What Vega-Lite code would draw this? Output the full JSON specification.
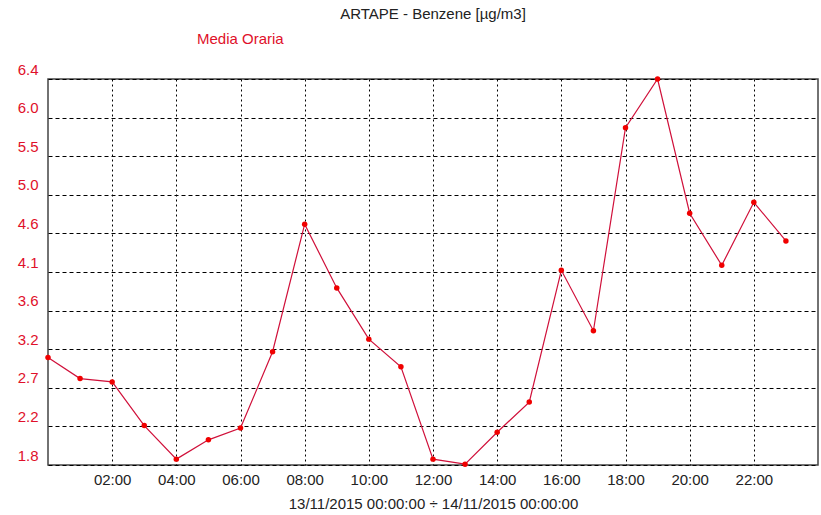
{
  "$schema": "https://vega.github.io/schema/vega-lite/v6.json",
  "width": 770,
  "height": 386,
  "autosize": {"type": "none"},
  "padding": {"left": 48, "top": 79, "right": 3, "bottom": 50},
  "background": "white",
  "config": {
    "font": "Liberation Sans",
    "view": {"stroke": "#444", "strokeWidth": 1.5}
  },
  "title": {
    "text": "ARTAPE - Benzene [µg/m3]",
    "anchor": "middle",
    "fontSize": 15,
    "fontWeight": "normal",
    "color": "#222",
    "font": "Liberation Sans",
    "offset": 9
  },
  "data": {
    "values": [
      {"hour": 0, "value": 3.08, "series": "Media Oraria"},
      {"hour": 1, "value": 2.83, "series": "Media Oraria"},
      {"hour": 2, "value": 2.79, "series": "Media Oraria"},
      {"hour": 3, "value": 2.27, "series": "Media Oraria"},
      {"hour": 4, "value": 1.87, "series": "Media Oraria"},
      {"hour": 5, "value": 2.1, "series": "Media Oraria"},
      {"hour": 6, "value": 2.24, "series": "Media Oraria"},
      {"hour": 7, "value": 3.15, "series": "Media Oraria"},
      {"hour": 8, "value": 4.67, "series": "Media Oraria"},
      {"hour": 9, "value": 3.91, "series": "Media Oraria"},
      {"hour": 10, "value": 3.3, "series": "Media Oraria"},
      {"hour": 11, "value": 2.97, "series": "Media Oraria"},
      {"hour": 12, "value": 1.87, "series": "Media Oraria"},
      {"hour": 13, "value": 1.81, "series": "Media Oraria"},
      {"hour": 14, "value": 2.19, "series": "Media Oraria"},
      {"hour": 15, "value": 2.55, "series": "Media Oraria"},
      {"hour": 16, "value": 4.12, "series": "Media Oraria"},
      {"hour": 17, "value": 3.4, "series": "Media Oraria"},
      {"hour": 18, "value": 5.82, "series": "Media Oraria"},
      {"hour": 19, "value": 6.4, "series": "Media Oraria"},
      {"hour": 20, "value": 4.8, "series": "Media Oraria"},
      {"hour": 21, "value": 4.18, "series": "Media Oraria"},
      {"hour": 22, "value": 4.93, "series": "Media Oraria"},
      {"hour": 23, "value": 4.47, "series": "Media Oraria"}
    ]
  },
  "encoding": {
    "x": {
      "field": "hour",
      "type": "quantitative",
      "scale": {"domain": [0, 24], "nice": false, "zero": false},
      "axis": {
        "values": [2, 4, 6, 8, 10, 12, 14, 16, 18, 20, 22],
        "labelExpr": "(datum.value < 10 ? '0' : '') + datum.value + ':00'",
        "domain": false,
        "ticks": false,
        "labelPadding": 7,
        "labelFontSize": 15,
        "labelColor": "#222",
        "labelFont": "Liberation Sans",
        "grid": true,
        "gridColor": "#000",
        "gridOpacity": 1,
        "gridWidth": 1,
        "gridDash": [2, 3],
        "title": "13/11/2015 00:00:00 ÷ 14/11/2015 00:00:00",
        "titleFont": "Liberation Sans",
        "titleFontSize": 15,
        "titleFontWeight": "normal",
        "titleColor": "#222",
        "titlePadding": 9
      }
    },
    "y": {
      "field": "value",
      "type": "quantitative",
      "scale": {"domain": [1.8, 6.4], "nice": false, "zero": false},
      "axis": {
        "values": [1.8, 2.26, 2.72, 3.18, 3.64, 4.1, 4.56, 5.02, 5.48, 5.94, 6.4],
        "labelExpr": "datum.value < 2 ? '1.8' : datum.value < 2.5 ? '2.2' : datum.value < 2.9 ? '2.7' : datum.value < 3.4 ? '3.2' : datum.value < 3.9 ? '3.6' : datum.value < 4.3 ? '4.1' : datum.value < 4.8 ? '4.6' : datum.value < 5.2 ? '5.0' : datum.value < 5.7 ? '5.5' : datum.value < 6.2 ? '6.0' : '6.4'",
        "domain": false,
        "ticks": false,
        "labelPadding": 10,
        "labelOffset": -10,
        "labelFontSize": 15,
        "labelColor": "#e0102a",
        "labelFont": "Liberation Sans",
        "grid": true,
        "gridColor": "#000",
        "gridOpacity": 1,
        "gridWidth": 1,
        "gridDash": [4, 3],
        "title": null
      }
    }
  },
  "layer": [
    {
      "mark": {"type": "line", "strokeWidth": 1.2, "clip": false},
      "encoding": {
        "color": {
          "field": "series",
          "type": "nominal",
          "scale": {"range": ["#d0103a"]},
          "legend": {
            "orient": "none",
            "legendX": 134,
            "legendY": -48,
            "title": null,
            "symbolSize": 0,
            "symbolStrokeWidth": 0,
            "symbolOpacity": 0,
            "labelOffset": 0,
            "labelFontSize": 15,
            "labelFont": "Liberation Sans",
            "labelColor": "#e0102a"
          }
        }
      }
    },
    {
      "mark": {"type": "circle", "size": 30, "color": "#f00000", "opacity": 1, "clip": false},
      "encoding": {}
    }
  ]
}
